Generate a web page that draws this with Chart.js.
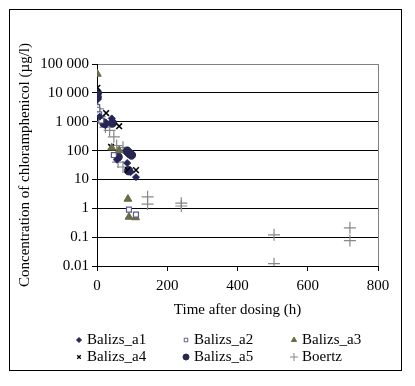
<!DOCTYPE html>
<html lang="en">
<head>
<meta charset="UTF-8">
<title>Chloramphenicol concentration</title>
<script src="https://cdn.jsdelivr.net/npm/chart.js"></script>
<style>
    body { margin: 0; background: #fff; }
    .wrap { position: relative; width: 415px; height: 386px; font-family: "Liberation Serif", "DejaVu Serif", serif; }
    .frame { position: absolute; left: 9px; top: 9px; width: 393px; height: 362px; border: 1px solid #000; box-sizing: border-box; pointer-events: none; }
    .leg { position: absolute; font-size: 15px; line-height: 17px; color: #000; white-space: nowrap; }
    .leg canvas { position: absolute; left: -14px; top: 3px; }
</style>
</head>
<body>
<div class="wrap">
    <canvas id="chart" width="415" height="386"></canvas>
    <div class="frame"></div>
    <div id="legend"></div>
</div>
<script>
// series data (time in h, concentration in µg/l)
const seriesNames = ['Balizs_a1', 'Balizs_a2', 'Balizs_a3', 'Balizs_a4', 'Balizs_a5', 'Boertz'];

const a1Time = [0.5, 2, 8, 24, 42, 57, 86, 96, 111];
const a1Conc = [9000, 6000, 1500, 750, 1300, 48, 37, 18, 12];

const a2Time = [0.5, 1, 6, 12, 48, 91, 111];
const a2Conc = [3200, 2600, 1800, 1100, 70, 0.9, 0.6];

const a3Time = [1, 42, 63, 88, 91, 110];
const a3Conc = [45000, 125, 100, 2.1, 0.5, 0.48];

const a4Time = [1, 26, 40, 63, 88, 111];
const a4Conc = [15000, 2000, 135, 700, 21, 21];

const a5Time = [0.5, 1, 20, 44, 60, 86, 92, 98, 90];
const a5Conc = [7000, 10000, 900, 900, 60, 95, 80, 70, 20];

const boertzTime = [3, 8, 12, 24, 36, 48, 56, 74, 60, 74, 144, 144, 240, 240, 504, 504, 720, 720];
const boertzConc = [2800, 1500, 1000, 650, 500, 300, 150, 130, 40, 27, 2.5, 1.4, 1.5, 1.2, 0.12, 0.012, 0.21, 0.076];

const yTicks = [0.01, 0.1, 1, 10, 100, 1000, 10000, 100000];
const yTickLabels = ['0.01', '0.1', '1', '10', '100', '1 000', '10 000', '100 000'];
const xTicks = [0, 200, 400, 600, 800];

function pts(t, c) {
    return t.map((x, i) => ({ x: x, y: c[i] }));
}

const styles = [
    { pointStyle: 'rectRot', radius: 3.5, bg: '#24245a', border: '#24245a', bw: 1, leg: 2.5 },
    { pointStyle: 'rect', radius: 3.5, bg: '#ffffff', border: '#5c5c8c', bw: 1.2, leg: 2.5 },
    { pointStyle: 'triangle', radius: 4.5, bg: '#6b6b47', border: '#6b6b47', bw: 1, leg: 3 },
    { pointStyle: 'crossRot', radius: 4, bg: '#000000', border: '#000000', bw: 1.6, leg: 2.5 },
    { pointStyle: 'circle', radius: 4.2, bg: '#27274f', border: '#27274f', bw: 1, leg: 3 },
    { pointStyle: 'cross', radius: 6, bg: '#888888', border: '#888888', bw: 1.2, leg: 4 }
];

const allData = [
    pts(a1Time, a1Conc), pts(a2Time, a2Conc), pts(a3Time, a3Conc),
    pts(a4Time, a4Conc), pts(a5Time, a5Conc), pts(boertzTime, boertzConc)
];

const font = { family: '"Liberation Serif", "DejaVu Serif", serif', size: 15 };

// plot area border (gray right edge)
const plotBorder = {
    id: 'plotBorder',
    beforeDatasetsDraw(chart) {
        const { ctx, chartArea } = chart;
        ctx.save();
        ctx.strokeStyle = '#808080';
        ctx.lineWidth = 1;
        ctx.beginPath();
        ctx.moveTo(Math.round(chartArea.right) + 0.5, chartArea.top);
        ctx.lineTo(Math.round(chartArea.right) + 0.5, chartArea.bottom);
        ctx.stroke();
        ctx.restore();
    }
};

new Chart(document.getElementById('chart'), {
    type: 'scatter',
    data: {
        datasets: seriesNames.map((name, i) => ({
            label: name,
            data: allData[i],
            pointStyle: styles[i].pointStyle,
            pointRadius: styles[i].radius,
            pointBackgroundColor: styles[i].bg,
            pointBorderColor: styles[i].border,
            pointBorderWidth: styles[i].bw,
            showLine: false
        }))
    },
    options: {
        responsive: false,
        animation: false,
        layout: { padding: { left: 0, top: 64, right: 37, bottom: 64 } },
        plugins: { legend: { display: false }, tooltip: { enabled: false } },
        scales: {
            x: {
                type: 'linear',
                min: 0, max: 800,
                afterFit(scale) { scale.height = 56; },
                afterBuildTicks(scale) { scale.ticks = xTicks.map(v => ({ value: v })); },
                ticks: { color: '#000', font: font, padding: 6, maxRotation: 0 },
                grid: { drawOnChartArea: false, tickLength: 5, tickColor: '#000', color: '#000' },
                border: { color: '#000', width: 1 },
                title: { display: true, text: 'Time after dosing (h)', color: '#000', font: font, padding: { top: 0, bottom: 3 } }
            },
            y: {
                type: 'logarithmic',
                min: 0.01, max: 100000,
                afterFit(scale) { scale.width = 97; },
                afterBuildTicks(scale) { scale.ticks = yTicks.map(v => ({ value: v })); },
                ticks: {
                    color: '#000', font: font, padding: 3,
                    callback(v) {
                        const i = yTicks.findIndex(t => Math.abs(Math.log10(t) - Math.log10(v)) < 1e-6);
                        return i >= 0 ? yTickLabels[i] : '';
                    }
                },
                grid: {
                    tickLength: 5,
                    tickColor: '#000',
                    lineWidth: 1,
                    color: ctx => (ctx.tick && ctx.tick.value >= 100000 ? '#808080' : '#000')
                },
                border: { color: '#000', width: 1 },
                title: { display: true, text: 'Concentration of chloramphenicol (µg/l)', color: '#000', font: font, padding: { top: 16, bottom: 0 } }
            }
        }
    },
    plugins: [plotBorder]
});

// legend (two rows of three)
const legPos = [[87, 331], [194, 331], [302, 331], [87, 348], [194, 348], [302, 348]];
const legendEl = document.getElementById('legend');
seriesNames.forEach((name, i) => {
    const item = document.createElement('div');
    item.className = 'leg';
    item.style.left = legPos[i][0] + 'px';
    item.style.top = legPos[i][1] + 'px';
    const c = document.createElement('canvas');
    c.width = 12; c.height = 12;
    const cx = c.getContext('2d');
    const s = styles[i];
    cx.fillStyle = s.bg;
    cx.strokeStyle = s.border;
    cx.lineWidth = s.pointStyle === 'crossRot' ? 1.3 : 1;
    if (Chart.helpers && Chart.helpers.drawPoint) {
        Chart.helpers.drawPoint(cx, { pointStyle: s.pointStyle, radius: s.leg, rotation: 0, borderWidth: 1 }, 6, 6);
    }
    item.appendChild(c);
    item.appendChild(document.createTextNode(name));
    legendEl.appendChild(item);
});
</script>
</body>
</html>
